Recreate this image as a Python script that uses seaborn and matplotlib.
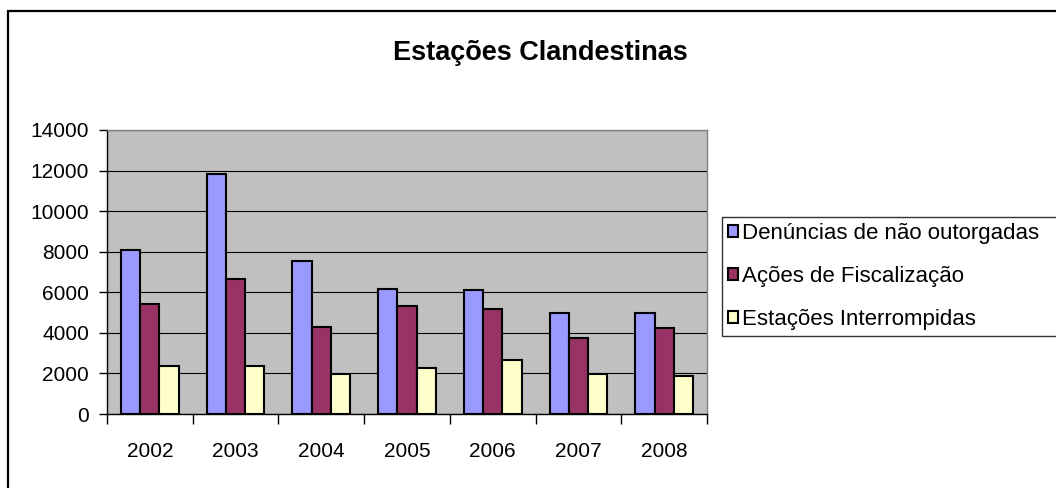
import numpy as np
import pandas as pd
import matplotlib
matplotlib.use("Agg")
import matplotlib.pyplot as plt
from matplotlib.patches import Rectangle
import seaborn as sns

years = ["2002", "2003", "2004", "2005", "2006", "2007", "2008"]
denuncias = [8100, 11850, 7550, 6150, 6100, 5000, 5000]
acoes = [5400, 6650, 4300, 5300, 5200, 3750, 4230]
interrompidas = [2350, 2350, 1950, 2250, 2680, 1970, 1870]
series_names = ["Denúncias de não outorgadas", "Ações de Fiscalização", "Estações Interrompidas"]
colors = ["#9999FF", "#993366", "#FFFFCC"]

df = pd.DataFrame({
    "ano": years * 3,
    "valor": denuncias + acoes + interrompidas,
    "serie": [series_names[0]] * 7 + [series_names[1]] * 7 + [series_names[2]] * 7,
})

sns.set_style("white")
plt.rcParams["font.family"] = ["Liberation Sans", "DejaVu Sans"]
plt.rcParams["text.color"] = "black"
plt.rcParams["xtick.color"] = "black"
plt.rcParams["ytick.color"] = "black"

fig = plt.figure(figsize=(10.56, 4.88), dpi=100)
ax = fig.add_axes([107 / 1056, 1 - 414 / 488, 600 / 1056, 284 / 488])

sns.barplot(data=df, x="ano", y="valor", hue="serie", palette=colors,
            width=0.673, edgecolor="black", linewidth=1.5, saturation=1,
            ax=ax, legend=True)

ax.set_facecolor("#C0C0C0")
ax.set_ylim(0, 14000)
ax.set_xlim(-0.5, 6.5)
ax.set_yticks(np.arange(0, 14001, 2000))
ax.yaxis.grid(True, color="black", linewidth=0.8)
ax.set_axisbelow(True)
ax.set_xlabel("")
ax.set_ylabel("")

for s in ["top", "right"]:
    ax.spines[s].set_color("#808080")
    ax.spines[s].set_linewidth(1.0)
for s in ["left", "bottom"]:
    ax.spines[s].set_color("black")
    ax.spines[s].set_linewidth(1.0)

ax.tick_params(axis="y", direction="out", length=6, width=1,
               labelsize=15, pad=7, left=True)
ax.set_xticks(np.arange(-0.5, 7, 1), minor=True)
ax.tick_params(axis="x", which="major", length=0, labelsize=15, pad=20)
ax.tick_params(axis="x", which="minor", direction="out", length=7, width=1,
               bottom=True)

fig.text(540 / 1056, 1 - 53 / 488, "Estações Clandestinas", ha="center", va="center",
         fontsize=19.5, fontweight="bold")

# legend: box runs past the right edge, as in the reference
handles, labels = ax.get_legend_handles_labels()
ax.legend_.remove()
top = 1 - 217 / 488
leg = fig.legend(handles, labels, loc="upper left",
                 bbox_to_anchor=(722 / 1056, top - 0.01, 360 / 1056, 0.01),
                 mode="expand", frameon=True, fancybox=False, fontsize=16,
                 handlelength=0.45, handleheight=0.45, handletextpad=0.2,
                 labelspacing=1.0, borderpad=0.25, borderaxespad=0)
leg.get_frame().set_edgecolor("black")
leg.get_frame().set_linewidth(1.0)

fig.patches.append(Rectangle((8 / 1056, -0.1), 1.2, 1.1 - 11 / 488,
                             transform=fig.transFigure, fill=False,
                             edgecolor="black", linewidth=1.6, zorder=10))

fig.savefig("out.png", dpi=100)
